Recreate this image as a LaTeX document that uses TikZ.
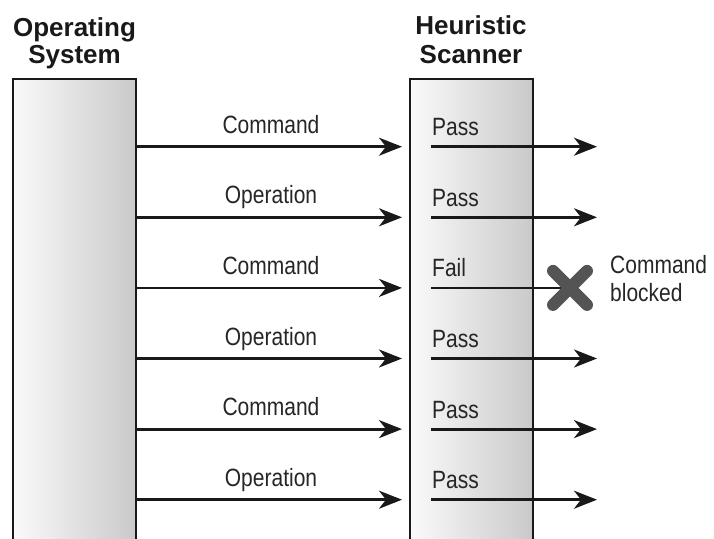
\documentclass[tikz,border=0pt]{standalone}
\usepackage{fontspec}
\setmainfont{Liberation Sans}
\newfontfamily\condfont[FakeStretch=0.84]{Liberation Sans}
\usetikzlibrary{arrows.meta,calc}

\tikzset{
  colbox/.style={line width=2.6pt, draw=black!90},
  flow/.style={line width=2.8pt, draw=black!90,
    -{Stealth[length=23pt,width=18pt,inset=7pt]}},
  lbl/.style={font=\condfont\fontsize{25}{28}\selectfont, anchor=base,
    inner sep=0pt, text=black!85},
  res/.style={lbl, anchor=base west},
  heading/.style={font=\bfseries\fontsize{26}{28}\selectfont, anchor=base,
    inner sep=0pt, text=black!90},
  blockmark/.style={line width=12pt, line cap=round, draw=black!67}
}

\begin{document}
\begin{tikzpicture}[x=1pt,y=-1pt]
\useasboundingbox (0,0) rectangle (714,538);

% the two columns, open at the bottom
\shade[left color=gray!4, right color=gray!42] (13,79) rectangle (136,541);
\draw[colbox] (13,541) -- (13,79) -- (136,79) -- (136,541);
\shade[left color=gray!4, right color=gray!42] (410,79) rectangle (533,541);
\draw[colbox] (410,541) -- (410,79) -- (533,79) -- (533,541);

% column headings
\node[heading] (osA) at (74.5,36.7) {Operating};
\node[heading] (osB) at (74.5,63.5) {System};
\node[heading] (hsA) at (471,34.5) {Heuristic};
\node[heading] (hsB) at (471,63) {Scanner};

% requests from the operating system and their results
\foreach \i/\req/\out in {0/Command/Pass, 1/Operation/Pass, 3/Operation/Pass,
                          4/Command/Pass, 5/Operation/Pass}{
  \pgfmathsetmacro{\yy}{146.7+70.6*\i}
  \coordinate (src\i) at (136,\yy);
  \coordinate (dst\i) at (402,\yy);
  \coordinate (in\i) at (431,\yy);
  \coordinate (out\i) at (597,\yy);
  \draw[flow] (src\i) -- (dst\i);
  \draw[flow] (in\i) -- (out\i);
  \node[lbl] (req\i) at (271,\yy-13.4) {\req};
  \node[res] (res\i) at (432,\yy-11) {\out};
}

% the blocked command
\coordinate (src2) at (136,287.9);
\coordinate (dst2) at (402,287.9);
\coordinate (in2) at (431,287.9);
\coordinate (stop) at (570,287.9);
\draw[flow] (src2) -- (dst2);
\draw[line width=2.8pt, draw=black!90] (in2) -- (stop);
\node[lbl] (req2) at (271,287.9-13.4) {Command};
\node[res] (res2) at (432,287.9-11) {Fail};
\draw[blockmark] ($(stop)+(-17,-17)$) -- ($(stop)+(17,17)$);
\draw[blockmark] ($(stop)+(-17,17)$) -- ($(stop)+(17,-17)$);
\node[res] (blkA) at (610,273) {Command};
\node[res] (blkB) at (610,301.5) {blocked};
\end{tikzpicture}
\end{document}
